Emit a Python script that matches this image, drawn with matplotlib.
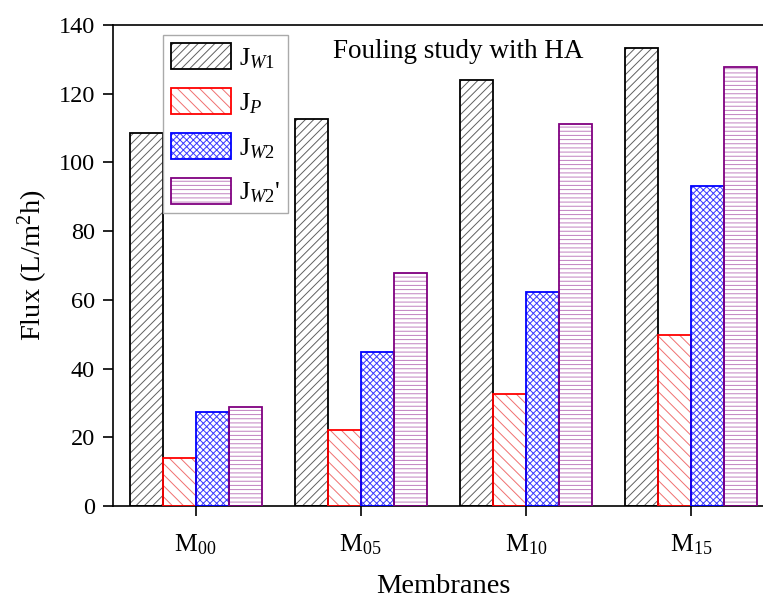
import numpy as np
import matplotlib
matplotlib.use('Agg')
import matplotlib.pyplot as plt
from matplotlib.legend_handler import HandlerTuple

plt.rcParams['font.family'] = 'Liberation Serif'
plt.rcParams['mathtext.fontset'] = 'custom'
plt.rcParams['mathtext.rm'] = 'Liberation Serif'
plt.rcParams['mathtext.it'] = 'Liberation Serif:italic'
plt.rcParams['hatch.linewidth'] = 0.7

membranes = [r'$\mathrm{M}_{00}$', r'$\mathrm{M}_{05}$', r'$\mathrm{M}_{10}$', r'$\mathrm{M}_{15}$']
series_labels = [r'$\mathrm{J}_{\mathit{W1}}$', r'$\mathrm{J}_{\mathit{P}}$',
                 r'$\mathrm{J}_{\mathit{W2}}$', r"$\mathrm{J}_{\mathit{W2}}$'"]
jw1 = [108.5, 112.7, 124.1, 133.3]
jp = [14.0, 22.1, 32.7, 49.8]
jw2 = [27.5, 44.9, 62.3, 93.1]
jw2p = [28.7, 67.8, 111.1, 127.7]

edge_colors = ['black', '#ff0000', '#0000ff', '#800080']
hatch_colors = ['#606060', '#f07070', '#3a3aff', '#c080c0']
hatches = ['////', '\\\\\\', 'xxxxx', '----']

fig = plt.figure(figsize=(7.63, 6.01), dpi=100)
ax = fig.add_axes([0.1481, 0.1581, 0.8657, 0.8003])

x = np.arange(len(membranes))
w = 0.2
handles = []
for i, vals in enumerate([jw1, jp, jw2, jw2p]):
    pos = x + (i - 1.5) * w
    b1 = ax.bar(pos, vals, w, facecolor='white', edgecolor=hatch_colors[i],
                hatch=hatches[i], linewidth=0, zorder=2)
    b2 = ax.bar(pos, vals, w, fill=False, edgecolor=edge_colors[i],
                linewidth=1.3, zorder=3)
    handles.append((b1, b2))

ax.set_xlim(-0.5, 3.5)
ax.set_ylim(0, 140)
ax.set_yticks(np.arange(0, 141, 20))
ax.set_xticks(x)
ax.set_xticklabels(membranes)
ax.tick_params(axis='both', labelsize=17.5, width=1.2, length=7, direction='out')
ax.tick_params(axis='x', labelsize=18.5, pad=12)
ax.tick_params(axis='y', pad=6)
for s in ax.spines.values():
    s.set_linewidth(1.2)

ax.set_ylabel(r'Flux (L/m$^2$h)', fontsize=20.5)
ax.set_xlabel('Membranes', fontsize=20.5, labelpad=12)
ax.yaxis.set_label_coords(-0.096, 0.5)

ax.text(0.333, 0.931, 'Fouling study with HA', transform=ax.transAxes,
        fontsize=19.5, va='baseline', ha='left')

leg = ax.legend(handles, series_labels, handler_map={tuple: HandlerTuple(ndivide=1)},
                loc='upper left', bbox_to_anchor=(0.0757, 0.979), borderaxespad=0,
                fontsize=19, handlelength=2.27, handleheight=1.14,
                handletextpad=0.3, labelspacing=0.66, borderpad=0.3,
                fancybox=False, framealpha=1, edgecolor='#aaaaaa')
leg.get_frame().set_linewidth(1.0)

fig.savefig('out.png', dpi=100)
